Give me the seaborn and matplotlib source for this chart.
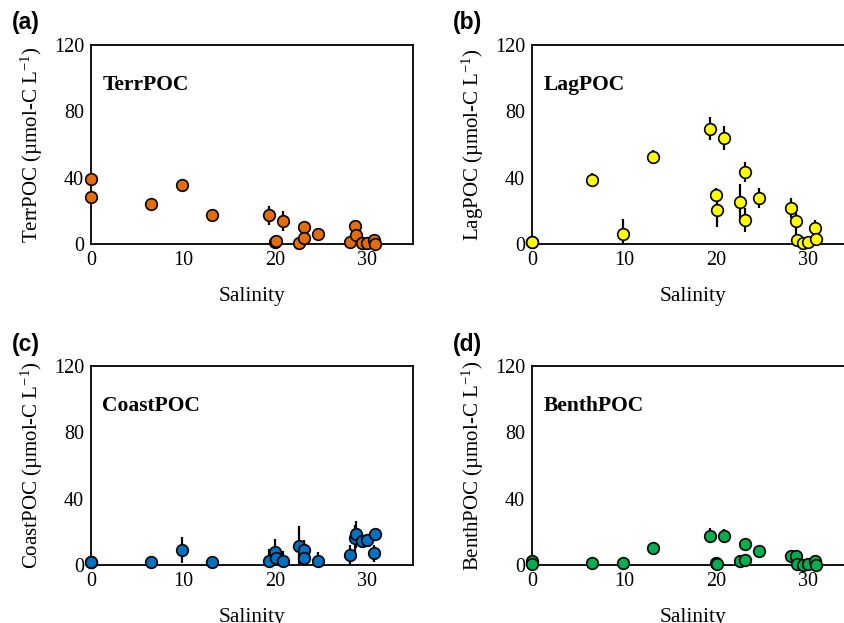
import numpy as np
import pandas as pd
import matplotlib
matplotlib.use("Agg")
import matplotlib.pyplot as plt
import seaborn as sns

salinity = [0.0, 0.0, 6.5, 9.9, 13.2, 19.3, 20.0, 20.1, 20.9, 22.6,
            23.2, 23.2, 24.7, 28.2, 28.7, 28.8, 29.5, 30.0, 30.8, 30.9]

terr_poc = [39.4, 28.3, 24.2, 35.4, 17.4, 17.2, 1.4, 1.6, 14.1, 0.8,
            10.5, 3.4, 6.0, 1.0, 11.1, 5.5, 0.4, 0.8, 2.2, 0.2]
terr_err = [1.0, 1.0, 2.5, 2.5, 4.0, 6.0, 1.0, 1.0, 6.0, 1.0,
            3.0, 2.0, 1.5, 1.0, 2.0, 2.0, 0.5, 0.5, 1.0, 0.5]

lag_poc = [1.4, 1.4, 38.8, 5.8, 52.5, 69.5, 29.7, 20.5, 63.9, 25.1,
           43.4, 14.5, 27.7, 21.5, 13.7, 2.4, 0.8, 1.4, 9.4, 3.0]
lag_err = [0.5, 0.5, 4.0, 9.0, 4.0, 7.0, 4.0, 10.0, 7.0, 11.0,
           6.0, 7.0, 6.0, 6.0, 10.0, 2.0, 0.5, 0.5, 5.0, 2.0]

coast_poc = [1.6, 1.6, 1.6, 9.0, 1.6, 2.6, 7.8, 4.0, 2.6, 11.4,
             9.0, 4.0, 2.6, 5.8, 16.0, 18.5, 14.2, 14.8, 7.0, 18.8]
coast_err = [0.5, 0.5, 3.0, 8.0, 3.0, 7.0, 8.0, 4.0, 6.0, 12.0,
             6.0, 4.0, 5.0, 6.0, 8.0, 8.0, 1.0, 1.0, 5.0, 2.0]

benth_poc = [2.6, 0.6, 1.0, 1.2, 10.0, 17.7, 1.0, 0.8, 17.5, 2.2,
             12.6, 2.8, 8.6, 5.4, 5.2, 0.6, 0.2, 0.6, 2.4, 0.2]
benth_err = [0.5, 0.5, 0.5, 0.5, 3.5, 4.5, 0.5, 0.5, 4.0, 0.5,
             3.0, 1.0, 1.0, 1.0, 1.0, 0.5, 0.3, 0.3, 1.0, 0.3]

names = ["TerrPOC", "LagPOC", "CoastPOC", "BenthPOC"]
panel_letters = ["(a)", "(b)", "(c)", "(d)"]
colors = ["#E46C0A", "#FFFF00", "#0070C0", "#00B050"]
x_ticks = [0, 10, 20, 30]
y_ticks = [0, 40, 80, 120]

values = [terr_poc, lag_poc, coast_poc, benth_poc]
errors = [terr_err, lag_err, coast_err, benth_err]

sns.set_style("white")
plt.rcParams["font.family"] = ["Liberation Serif", "DejaVu Serif"]
plt.rcParams["mathtext.fontset"] = "custom"
plt.rcParams["mathtext.rm"] = "Liberation Serif"
plt.rcParams["mathtext.it"] = "Liberation Serif:italic"
plt.rcParams["mathtext.default"] = "rm"
plt.rcParams["text.color"] = "black"
plt.rcParams["axes.labelcolor"] = "black"
plt.rcParams["xtick.color"] = "black"
plt.rcParams["ytick.color"] = "black"

W, H = 845, 623
fig = plt.figure(figsize=(W / 100, H / 100), dpi=100)

# axes boxes in pixels: (left, top, right, bottom)
boxes = [(91, 45, 413, 244), (532, 45, 854, 244),
         (91, 366, 413, 565), (532, 366, 854, 565)]

for i, (l, t, r, b) in enumerate(boxes):
    ax = fig.add_axes([l / W, 1 - b / H, (r - l) / W, (b - t) / H])
    df = pd.DataFrame({"Salinity": salinity, "val": values[i], "err": errors[i]})
    ax.errorbar(df["Salinity"], df["val"], yerr=df["err"], fmt="none",
                ecolor="black", elinewidth=1.6, capsize=0, zorder=2)
    sns.scatterplot(data=df, x="Salinity", y="val", ax=ax, color=colors[i],
                    edgecolor="black", linewidth=1.2, s=70, zorder=3,
                    clip_on=False, legend=False)
    ax.set_xlim(0, 35)
    ax.set_ylim(0, 120)
    ax.set_xticks(x_ticks)
    ax.set_yticks(y_ticks)
    ax.tick_params(direction="in", length=4, width=1.2, labelsize=14.5,
                   pad=5, colors="black")
    for sp in ax.spines.values():
        sp.set_visible(True)
        sp.set_color("black")
        sp.set_linewidth(1.3)
    ax.set_xlabel("Salinity", fontsize=15.5, labelpad=12, color="black")
    ax.set_ylabel(names[i] + " (µmol-C L$^{-1}$)", fontsize=15,
                  labelpad=6, color="black")
    ax.text(0.035, 0.80, names[i], transform=ax.transAxes, fontsize=15.5,
            fontweight="bold", ha="left", va="center", color="black")
    fig.text((l - 79) / W, 1 - (t - 22) / H, panel_letters[i],
             fontsize=16.5, fontweight="bold", color="black",
             family=["Liberation Sans", "DejaVu Sans"],
             ha="left", va="center")

fig.savefig("out.png", dpi=100)
